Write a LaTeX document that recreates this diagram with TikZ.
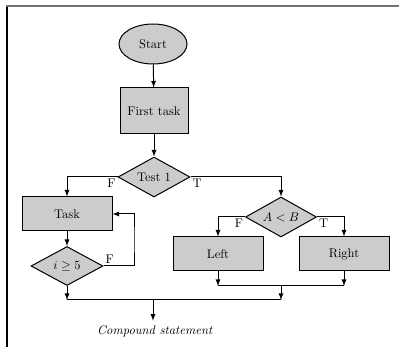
\documentclass[tikz,border=0pt]{standalone}
\usepackage{amsmath}
\usepackage{amssymb}
\usepackage{tikz}
\usetikzlibrary{shapes,arrows}
\tikzstyle{block} = [rectangle, sharp corners, draw, text centered,
                     fill=gray!40, minimum width=72pt, minimum height=27.2pt]
\tikzstyle{decision} = [diamond, draw, fill=gray!40, aspect=1.8, inner sep=0pt,
                     minimum width=57.6pt, minimum height=32pt]
\tikzstyle{startstop} = [ellipse, draw, fill=gray!40,
                     minimum width=54.4pt, minimum height=32pt]
\tikzstyle{line} = [draw, ->, >=latex]

\begin{document}
\begin{tikzpicture}[x=0.8pt, y=-0.8pt, line width=0.8pt,
lab/.style={inner sep=1.2pt}]
\useasboundingbox (0,0) rectangle (399,347);
% frame
\draw[black!55, line width=1.6pt] (6,6) -- (399,6);
\draw[black, line width=1.2pt] (7,7) -- (7,347);

% Nodes
\node[startstop] at (153,44) (start){Start};
\node[block, minimum width=54.4pt, minimum height=36.8pt] at (154,111) (first){First task};
\node[decision] at (154,177) (test1){Test 1};
\node[block] at (67,214) (task){Task};
\node[decision, minimum height=31.2pt] at (67,266) (ige){$i\geq 5$};
\node[decision, minimum width=56.8pt] at (281,217) (aless){$A<B$};
\node[block] at (218,254) (left){Left};
\node[block] at (344,254) (right){Right};
\node at (155,331) (comp){\textit{Compound statement}};

% Joins
\coordinate (loop) at (134,240);
\coordinate (jlr) at (281,286);
\coordinate (jall) at (153,300);

% Connectors
\draw[line] (start) -- (first);
\draw[line] (first) -- (test1);
\draw[line] (test1.west) -| (task.north) node[lab, pos=0, below left]{F};
\draw[line] (test1.east) -| (aless.north) node[lab, pos=0, below right]{T};
\draw[line] (task) -- (ige);
\draw[line] (ige.east) -| (loop) |- (task.east);
\node[lab, above right] at (ige.east) (fige){F};
\draw[line] (aless.west) -| (left.north) node[lab, pos=0, below left]{F};
\draw[line] (aless.east) -| (right.north) node[lab, pos=0, below right]{T};
\draw[line] (left.south) -- (left.south |- jlr);
\draw[line] (right.south) -- (right.south |- jlr);
\draw (left.south |- jlr) -- (right.south |- jlr);
\draw[line] (jlr) -- (jlr |- jall);
\draw[line] (ige.south) -- (ige.south |- jall);
\draw (ige.south |- jall) -- (jlr |- jall);
\draw[line] (jall) -- (jall |- comp.north);
\end{tikzpicture}
\end{document}
